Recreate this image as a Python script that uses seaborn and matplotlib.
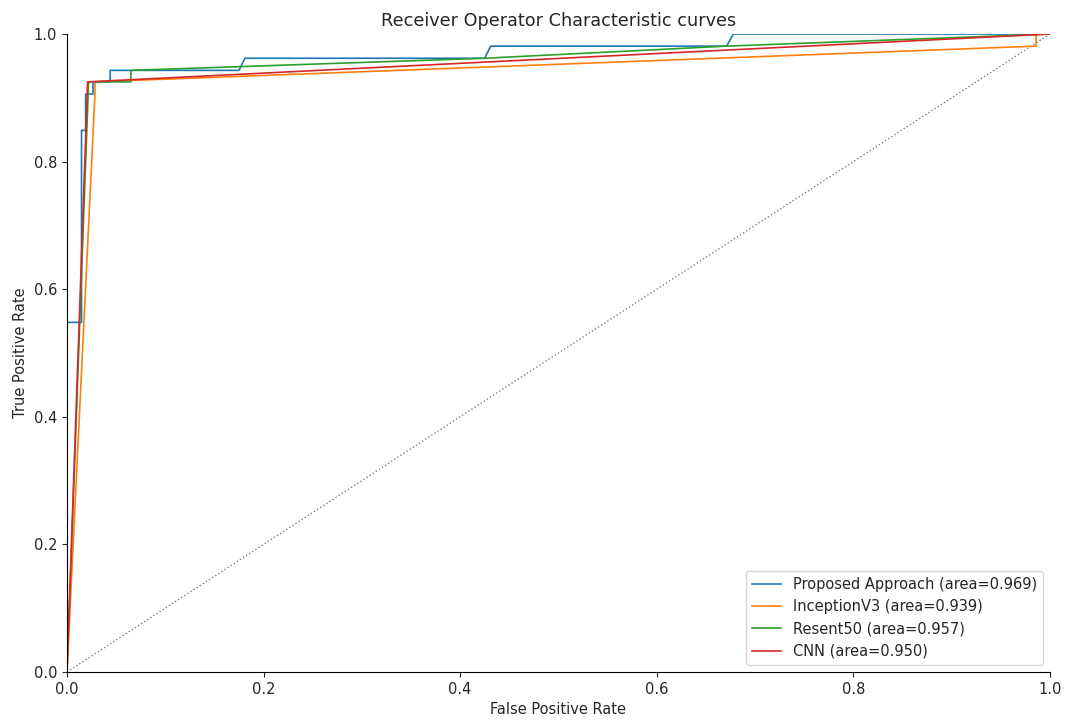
import matplotlib
matplotlib.use("Agg")
import matplotlib.pyplot as plt
import seaborn as sns
import pandas as pd

# ROC operating points (false positive rate, true positive rate) per model
proposed_fpr = [0.0, 0.0, 0.0148, 0.0148, 0.019, 0.019, 0.0265, 0.0265, 0.044, 0.044,
                0.175, 0.181, 0.425, 0.431, 0.671, 0.678, 1.0]
proposed_tpr = [0.0, 0.548, 0.548, 0.849, 0.849, 0.906, 0.906, 0.925, 0.925, 0.943,
                0.943, 0.962, 0.962, 0.981, 0.981, 1.0, 1.0]

inception_fpr = [0.0, 0.0285, 0.0285, 0.986, 0.986, 1.0]
inception_tpr = [0.0, 0.906, 0.925, 0.981, 1.0, 1.0]

resnet_fpr = [0.0, 0.022, 0.065, 0.065, 0.425, 0.671, 1.0]
resnet_tpr = [0.0, 0.925, 0.925, 0.943, 0.962, 0.981, 1.0]

cnn_fpr = [0.0, 0.021, 1.0]
cnn_tpr = [0.0, 0.925, 1.0]

model_names = ["Proposed Approach", "InceptionV3", "Resent50", "CNN"]
model_auc = [0.969, 0.939, 0.957, 0.950]

curves = [(proposed_fpr, proposed_tpr), (inception_fpr, inception_tpr),
          (resnet_fpr, resnet_tpr), (cnn_fpr, cnn_tpr)]

frames = []
for name, auc, (fpr, tpr) in zip(model_names, model_auc, curves):
    label = f"{name} (area={auc:.3f})"
    frames.append(pd.DataFrame({"fpr": fpr, "tpr": tpr, "model": label}))
roc = pd.concat(frames, ignore_index=True)

plt.rcParams.update({
    "font.size": 10.5,
    "axes.titlesize": 12.7,
    "text.color": "#262626",
    "axes.labelcolor": "#262626",
    "xtick.color": "#262626",
    "ytick.color": "#262626",
})

fig, ax = plt.subplots(figsize=(10.68, 7.22), dpi=100)
fig.subplots_adjust(left=0.0627, right=0.9831, top=0.9529, bottom=0.0693)

palette = sns.color_palette("tab10", 4)
sns.lineplot(data=roc, x="fpr", y="tpr", hue="model", palette=palette,
             sort=False, estimator=None, units="model", linewidth=1.2, ax=ax)

# chance line
ax.plot([0, 1], [0, 1], color="grey", linestyle=":", linewidth=1.0)

ax.set_xlim(0, 1)
ax.set_ylim(0, 1)
ax.set_xticks([0.0, 0.2, 0.4, 0.6, 0.8, 1.0])
ax.set_yticks([0.0, 0.2, 0.4, 0.6, 0.8, 1.0])
ax.set_xlabel("False Positive Rate")
ax.set_ylabel("True Positive Rate")
ax.set_title("Receiver Operator Characteristic curves")
sns.despine(ax=ax)
ax.legend(loc="lower right", title=None)

fig.savefig("out.png", dpi=100)
